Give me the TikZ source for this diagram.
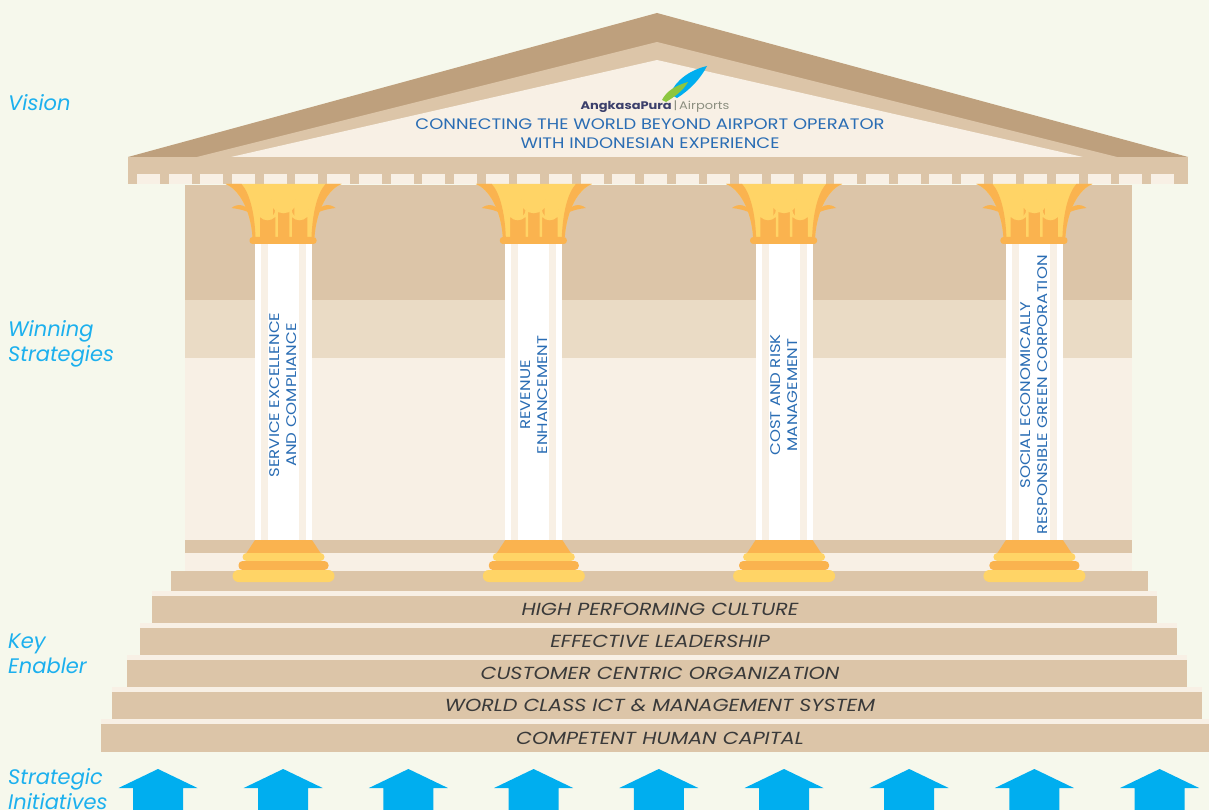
\documentclass[tikz,border=0pt]{standalone}
\usepackage{fontspec}
\setmainfont{Poppins}
\newfontfamily\widefont{Poppins}[FakeStretch=1.18]
\usetikzlibrary{positioning}
\definecolor{apBg}{HTML}{F6F8EC}
\definecolor{apDark}{HTML}{BEA07D}
\definecolor{apTan}{HTML}{DCC5A8}
\definecolor{apLight}{HTML}{EADBC5}
\definecolor{apCream}{HTML}{F8F0E5}
\definecolor{apOrange}{HTML}{FAB34F}
\definecolor{apYellow}{HTML}{FFD466}
\definecolor{apBlue}{HTML}{2A6DB4}
\definecolor{apSky}{HTML}{1CB0EE}
\definecolor{apArrow}{HTML}{00AEEF}
\definecolor{apText}{HTML}{3A3A3A}
\definecolor{apNavy}{HTML}{3B3F6B}
\definecolor{apGreen}{HTML}{8DC63F}
\definecolor{apGrey}{HTML}{8C8F80}
\tikzset{
  sidelbl/.style   = {font=\fontsize{21}{25}\selectfont\itshape, apSky,
                      anchor=north west, inner sep=0pt, align=left},
  steplbl/.style   = {font=\widefont\fontsize{17.5}{19}\selectfont\itshape, apText, inner sep=0pt},
  pillarlbl/.style = {font=\widefont\fontsize{14}{17}\selectfont, apBlue, rotate=90,
                      align=center, inner sep=0pt},
  visionlbl/.style = {font=\widefont\fontsize{15.2}{19}\selectfont, apBlue, align=center, inner sep=0pt},
  logolbl/.style   = {font=\widefont\fontsize{11}{12}\selectfont\bfseries, apNavy, inner sep=0pt},
  leaf/.style      = {fill=apOrange},
  leafedge/.style  = {draw=apYellow, line width=2.5pt, fill=apOrange},
  uparrow/.style   = {fill=apArrow},
}

\begin{document}
\begin{tikzpicture}[x=1pt, y=-1pt]
  \clip (0,0) rectangle (1209,810);
  \fill[apBg] (0,0) rectangle (1209,810);

  % pediment
  \fill[apDark]  (128,157) -- (657,13) -- (1188,157) -- cycle;
  \fill[apTan]   (197,157) -- (657,42) -- (1117,157) -- cycle;
  \fill[apCream] (231,157) -- (657,60) -- (1083,157) -- cycle;

  % logo
  \fill[apArrow] (670,94) .. controls (676,80) and (690,70) .. (707,66)
                 .. controls (701,78) and (690,90) .. (677,98) -- cycle;
  \fill[apGreen] (662,100) .. controls (666,92) and (674,86) .. (688,82)
                 .. controls (683,91) and (674,97) .. (666,102) -- cycle;
  \node[logolbl, anchor=base] (logo) at (655,110)
    {AngkasaPura\,{\color{apGrey}\mdseries|\,Airports}};

  \node[visionlbl] (vision) at (650,134)
    {CONNECTING THE WORLD BEYOND AIRPORT OPERATOR\\WITH INDONESIAN EXPERIENCE};

  % entablature with dentils
  \fill[apTan] (128,157) rectangle (1188,184);
  \foreach \k in {0,...,32}
    \fill[apCream] ({137+31.69*\k},174) rectangle +(23,10);

  % back wall
  \fill[apTan]   (185,185) rectangle (1132,300);
  \fill[apLight] (185,300) rectangle (1132,358);
  \fill[apCream] (185,358) rectangle (1132,540);
  \fill[apTan]   (185,540) rectangle (1132,553);
  \fill[apCream] (185,553) rectangle (1132,571);
  \fill[apTan]   (171,571) rectangle (1148,591);

  % steps
  \foreach \n/\l/\r/\top/\bot/\txt in {
      1/152/1157/591/623/HIGH PERFORMING CULTURE,
      2/140/1177/623/655/EFFECTIVE LEADERSHIP,
      3/127/1187/655/687/CUSTOMER CENTRIC ORGANIZATION,
      4/112/1202/687/719/WORLD CLASS ICT \& MANAGEMENT SYSTEM,
      5/101/1209/719/752/COMPETENT HUMAN CAPITAL}{
    \fill[apCream] (\l,\top) rectangle (\r,\top+5);
    \fill[apTan] (\l,\top+5) rectangle (\r,\bot);
    \node[steplbl] (step\n) at (660,{(\top+5+\bot)/2}) {\txt};
  }

  % pillars
  \foreach \i/\txt in {
      0/{SERVICE EXCELLENCE\\AND COMPLIANCE},
      1/{REVENUE\\ENHANCEMENT},
      2/{COST AND RISK\\MANAGEMENT},
      3/{SOCIAL ECONOMICALLY\\RESPONSIBLE GREEN CORPORATION}}{
    \begin{scope}[shift={({283.5+250.3*\i},0)}]
      % shaft
      \fill[white] (-28.5,244) rectangle (28.5,540);
      \fill[apCream] (-22.5,244) rectangle (-15.5,540);
      \fill[apCream] (15.5,244) rectangle (22.5,540);
      % capital
      \fill[apYellow] (-58,184) -- (58,184)
        .. controls (45,189) and (33,209) .. (31,237) -- (-31,237)
        .. controls (-33,209) and (-45,189) .. (-58,184) -- cycle;
      \fill[leaf] (-58,184) .. controls (-45,189) and (-33,209) .. (-31,237)
        -- (-28,237) .. controls (-29,212) and (-34,193) .. (-42,184) -- cycle;
      \fill[leaf] (58,184) .. controls (45,189) and (33,209) .. (31,237)
        -- (28,237) .. controls (29,212) and (34,193) .. (42,184) -- cycle;
      \fill[leaf] (-52,208) .. controls (-46,203) and (-37,204) .. (-32,214)
        .. controls (-38,210) and (-45,209) .. (-52,208) -- cycle;
      \fill[leaf] (52,208) .. controls (46,203) and (37,204) .. (32,214)
        .. controls (38,210) and (45,209) .. (52,208) -- cycle;
      \draw[leafedge] (-12,237) -- (-12,200) arc[start angle=180, end angle=0, radius=12]
        -- (12,237);
      \draw[leafedge] (-25,237) -- (-25,210) arc[start angle=180, end angle=0, radius=9]
        -- (-7,237);
      \draw[leafedge] (7,237) -- (7,210) arc[start angle=180, end angle=0, radius=9]
        -- (25,237);
      \fill[apOrange, rounded corners=3pt] (-34,237) rectangle (33,244);
      % base
      \fill[apOrange] (-28.5,540) -- (28.5,540) -- (37,553) -- (-37,553) -- cycle;
      \fill[apYellow, rounded corners=4pt] (-41,553) rectangle (41,561);
      \fill[apOrange, rounded corners=4pt] (-45,561) rectangle (45,570);
      \fill[apYellow, rounded corners=6pt] (-51,570) rectangle (51,582);
      \node[pillarlbl] (pillar\i) at (0,395) {\txt};
    \end{scope}
  }

  % arrows
  \foreach \k in {0,...,8}{
    \begin{scope}[shift={({158+125.2*\k},0)}]
      \fill[uparrow] (0,769) -- (39.5,788) -- (25,788) -- (25,812)
        -- (-25,812) -- (-25,788) -- (-39.5,788) -- cycle;
    \end{scope}
  }

  % level labels
  \node[sidelbl] (lvlvision)   at (8,94)  {Vision};
  \node[sidelbl] (lvlwinning)  at (8,320) {Winning\\Strategies};
  \node[sidelbl] (lvlenabler)  at (8,634) {Key\\Enabler};
  \node[sidelbl] (lvlinitiate) at (8,768) {Strategic\\Initiatives};
\end{tikzpicture}
\end{document}
